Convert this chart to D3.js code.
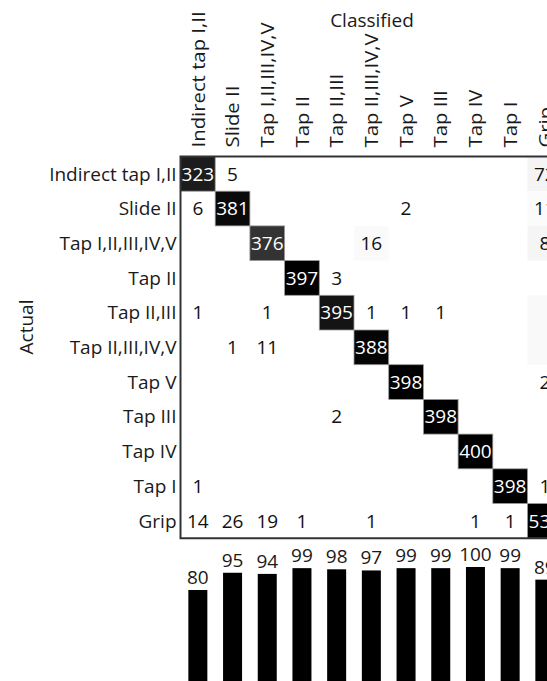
<html>
<head>
<script src="https://d3js.org/d3.v7.min.js"></script>
<style>
  body { margin: 0; background: #fff; }
  text { font-family: "Open Sans", sans-serif; font-size: 19px; fill: #1a1a1a; }
</style>
</head>
<body>
<svg id="chart" width="547" height="681"></svg>
<script>
// class names, used for both rows (actual) and columns (classified)
var classes = ["Indirect tap I,II", "Slide II", "Tap I,II,III,IV,V", "Tap II", "Tap II,III",
               "Tap II,III,IV,V", "Tap V", "Tap III", "Tap IV", "Tap I", "Grip"];

// confusion counts, row = actual, column = classified (null = empty cell)
var counts = [
  [323, 5, null, null, null, null, null, null, null, null, 72],
  [6, 381, null, null, null, null, 2, null, null, null, 11],
  [null, null, 376, null, null, 16, null, null, null, null, 8],
  [null, null, null, 397, 3, null, null, null, null, null, null],
  [1, null, 1, null, 395, 1, 1, 1, null, null, null],
  [null, 1, 11, null, null, 388, null, null, null, null, null],
  [null, null, null, null, null, null, 398, null, null, null, 2],
  [null, null, null, null, 2, null, null, 398, null, null, null],
  [null, null, null, null, null, null, null, null, 400, null, null],
  [1, null, null, null, null, null, null, null, null, 398, 1],
  [14, 26, 19, 1, null, 1, null, null, 1, 1, 537]
];

// cell intensity (0 = white, 1 = black)
var intensity = [
  [0.89, 0, 0, 0, 0, 0, 0, 0, 0, 0, 0.045],
  [0, 0.96, 0, 0, 0, 0, 0, 0, 0, 0, 0.015],
  [0, 0, 0.8, 0, 0, 0.02, 0, 0, 0, 0, 0.04],
  [0, 0, 0, 1, 0, 0, 0, 0, 0, 0, 0],
  [0, 0, 0, 0, 0.92, 0, 0, 0, 0, 0, 0.025],
  [0, 0, 0, 0, 0, 0.98, 0, 0, 0, 0, 0.025],
  [0, 0, 0, 0, 0, 0, 1, 0, 0, 0, 0],
  [0, 0, 0, 0, 0, 0, 0, 1, 0, 0, 0],
  [0, 0, 0, 0, 0, 0, 0, 0, 1, 0, 0],
  [0, 0, 0, 0, 0, 0, 0, 0, 0, 1, 0],
  [0, 0, 0, 0, 0, 0, 0, 0, 0, 0, 1]
];

// per-class accuracy (%) shown as bars under the matrix
var accuracy = [80, 95, 94, 99, 98, 97, 99, 99, 100, 99, 89];

var svg = d3.select("#chart");
var cell = 34.7;
var x0 = 180.5, y0 = 156.5;

var x = d3.scaleBand().domain(d3.range(classes.length)).range([x0, x0 + cell * classes.length]);
var y = d3.scaleBand().domain(d3.range(classes.length)).range([y0, y0 + cell * classes.length]);
var shade = d3.scaleLinear().domain([0, 1]).range(["#ffffff", "#000000"]);

// flatten the matrix into cells
var cells = [];
counts.forEach(function(row, i) {
  row.forEach(function(v, j) {
    cells.push({ r: i, c: j, v: v, k: intensity[i][j] });
  });
});

svg.append("g").selectAll("rect")
  .data(cells.filter(function(d) { return d.k > 0; }))
  .join("rect")
  .attr("x", function(d) { return x(d.c); })
  .attr("y", function(d) { return y(d.r); })
  .attr("width", x.bandwidth())
  .attr("height", y.bandwidth())
  .attr("fill", function(d) { return shade(d.k); })
  .attr("stroke", function(d) { return d.k > 0.5 ? "#9a9a9a" : "none"; })
  .attr("stroke-width", 0.8);

svg.append("g").selectAll("text")
  .data(cells.filter(function(d) { return d.v != null; }))
  .join("text")
  .attr("x", function(d) { return x(d.c) + x.bandwidth() / 2; })
  .attr("y", function(d) { return y(d.r) + y.bandwidth() / 2; })
  .attr("text-anchor", "middle")
  .attr("dy", "0.35em")
  .style("fill", function(d) { return d.k > 0.5 ? "#ffffff" : "#111111"; })
  .text(function(d) { return d.v; });

// matrix frame: top, left and bottom lines
var xEnd = x0 + cell * classes.length;
var yEnd = y0 + cell * classes.length;
svg.append("path")
  .attr("d", "M" + xEnd + "," + y0 + "H" + x0 + "V" + yEnd + "H" + xEnd)
  .attr("fill", "none")
  .attr("stroke", "#333")
  .attr("stroke-width", 2);

// row labels
svg.append("g").selectAll("text")
  .data(classes)
  .join("text")
  .attr("x", x0 - 4)
  .attr("y", function(d, i) { return y(i) + y.bandwidth() / 2; })
  .attr("dy", "0.35em")
  .attr("text-anchor", "end")
  .text(function(d) { return d; });

// column labels, rotated (a bit taller in the original)
svg.append("g").selectAll("text")
  .data(classes)
  .join("text")
  .attr("transform", function(d, i) {
    return "translate(" + (x(i) + x.bandwidth() / 2) + "," + (y0 - 9) + ") rotate(-90) scale(1.07,1)";
  })
  .attr("dy", "0.35em")
  .attr("text-anchor", "start")
  .text(function(d) { return d; });

svg.append("text")
  .attr("x", 372)
  .attr("y", 27)
  .attr("text-anchor", "middle")
  .text("Classified");

svg.append("text")
  .attr("transform", "translate(26,327) rotate(-90)")
  .attr("dy", "0.35em")
  .attr("text-anchor", "middle")
  .text("Actual");

// accuracy bars
var yBar = d3.scaleLinear().domain([0, 100]).range([682, 567]);
svg.append("g").selectAll("rect")
  .data(accuracy)
  .join("rect")
  .attr("x", function(d, i) { return x(i) + x.bandwidth() / 2 - 9.5; })
  .attr("y", function(d) { return yBar(d); })
  .attr("width", 19)
  .attr("height", function(d) { return yBar(0) - yBar(d); })
  .attr("fill", "#000");

svg.append("g").selectAll("text")
  .data(accuracy)
  .join("text")
  .attr("x", function(d, i) { return x(i) + x.bandwidth() / 2; })
  .attr("y", function(d) { return yBar(d) - 6; })
  .attr("text-anchor", "middle")
  .text(function(d) { return d; });
</script>
</body>
</html>
